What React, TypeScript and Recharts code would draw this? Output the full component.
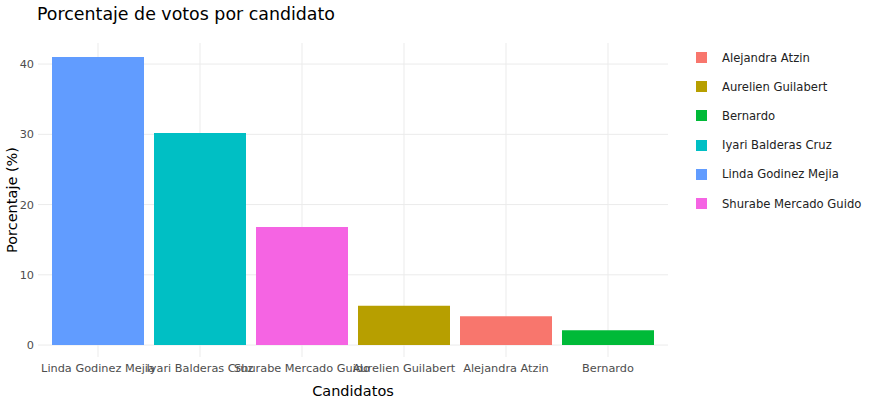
import React from "react";
import { BarChart, Bar, XAxis, YAxis, CartesianGrid, Cell, Legend, Label } from "recharts";

const candidatos = [
  "Linda Godinez Mejia",
  "Iyari Balderas Cruz",
  "Shurabe Mercado Guido",
  "Aurelien Guilabert",
  "Alejandra Atzin",
  "Bernardo",
];
const porcentajes = [41.0, 30.2, 16.8, 5.6, 4.1, 2.1];
const yTicks = [0, 10, 20, 30, 40];

// legend order (alphabetical, like ggplot) and hue palette
const legendNames = [
  "Alejandra Atzin",
  "Aurelien Guilabert",
  "Bernardo",
  "Iyari Balderas Cruz",
  "Linda Godinez Mejia",
  "Shurabe Mercado Guido",
];
const legendColors = ["#F8766D", "#B79F00", "#00BA38", "#00BFC4", "#619CFF", "#F564E3"];

const colorOf = (name: string) => legendColors[legendNames.indexOf(name)];
const data = candidatos.map((c, i) => ({ candidato: c, pct: porcentajes[i] }));

const FONT = "'DejaVu Sans', Verdana, sans-serif";
const tick = { fill: "#4d4d4d", fontSize: 11.3, fontFamily: FONT };
const GRID = "#ebebeb";

function LegendBox() {
  return (
    <div style={{ fontFamily: FONT, fontSize: 11.6, color: "#222" }}>
      {legendNames.map((n, i) => (
        <div key={n} style={{ display: "flex", alignItems: "center", height: 29.2 }}>
          <span style={{ width: 11, height: 11, background: legendColors[i], marginLeft: 6, marginRight: 15 }} />
          <span>{n}</span>
        </div>
      ))}
    </div>
  );
}

/* eslint-disable @typescript-eslint/no-explicit-any */
// grid lines only at ticks: skip the ones that fall on the panel border
function gridLine(p: any) {
  const { x1, y1, x2, y2, x, y, width, height, key } = p;
  const near = (a: number, b: number) => Math.abs(a - b) < 0.6;
  const edge =
    (y1 === y2 && (near(y1, y) || near(y1, y + height))) ||
    (x1 === x2 && (near(x1, x) || near(x1, x + width)));
  if (edge) return <g key={key} />;
  return <line key={key} x1={x1} y1={y1} x2={x2} y2={y2} stroke={GRID} strokeWidth={1} fill="none" />;
}
/* eslint-enable @typescript-eslint/no-explicit-any */

export default function App() {
  return (
    <div style={{ position: "absolute", left: 0, top: 0, width: 875, height: 400, background: "#fff" }}>
      <div style={{ position: "absolute", left: 37, top: 4, fontFamily: FONT, fontSize: 17.4, color: "#000" }}>
        Porcentaje de votos por candidato
      </div>
      <BarChart width={875} height={400} data={data} margin={{ top: 43, right: 22, bottom: 0, left: 0 }} barCategoryGap={5}>
        <CartesianGrid stroke={GRID} horizontal={gridLine} vertical={gridLine} />
        <XAxis
          dataKey="candidato"
          height={43}
          interval={0}
          tick={tick}
          tickLine={false}
          axisLine={false}
          tickSize={0}
          tickMargin={7}
          padding={{ left: 9, right: 9 }}
        >
          <Label value="Candidatos" position="insideBottom" offset={4} style={{ fill: "#000", fontSize: 14.5, fontFamily: FONT }} />
        </XAxis>
        <YAxis
          width={38}
          domain={[-1.7, 43]}
          ticks={yTicks}
          allowDataOverflow
          tick={tick}
          tickLine={false}
          axisLine={false}
          tickSize={0}
          tickMargin={4}
        >
          <Label
            content={() => (
              <text x={17} y={200} transform="rotate(-90 17 200)" textAnchor="middle" fill="#000" fontSize={14.5} fontFamily={FONT}>
                Porcentaje (%)
              </text>
            )}
          />
        </YAxis>
        <Legend
          layout="vertical"
          align="right"
          verticalAlign="top"
          content={<LegendBox />}
          wrapperStyle={{ position: "absolute", left: 690, top: 43, width: 185 }}
        />
        <Bar dataKey="pct" isAnimationActive={false}>
          {data.map((d) => (
            <Cell key={d.candidato} fill={colorOf(d.candidato)} />
          ))}
        </Bar>
      </BarChart>
    </div>
  );
}
